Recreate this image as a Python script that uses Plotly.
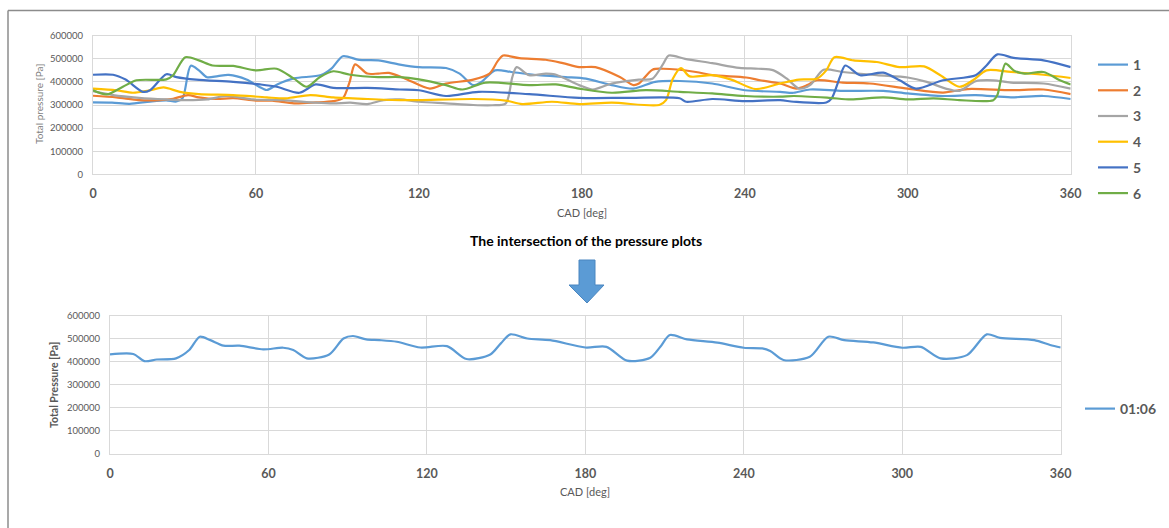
import plotly.graph_objects as go

W, H = 1169, 528

# ---------------- data ----------------
# values in thousands of Pa (x1000 = Pa), angles in CAD deg
s1_x = [0, 7, 13.5, 21, 27, 30.7, 33, 36, 39, 42, 46, 50, 56.5, 61, 64, 68, 74, 84, 88, 92, 98, 105, 113, 120, 130, 135, 140, 143, 148, 154, 164, 174, 181.5, 191, 199, 207, 216, 228, 240, 253, 258, 264, 276, 291, 300, 313, 325, 338, 350, 360]
s1_y = [311, 310, 305, 315, 320, 315, 330, 470, 450, 420, 425, 430, 410, 380, 365, 390, 415, 430, 460, 511, 495, 493, 475, 464, 460, 436, 386, 400, 450, 443, 429, 421, 414, 386, 371, 400, 404, 393, 364, 357, 353, 367, 361, 361, 350, 339, 343, 333, 339, 326]

s2_x = [0, 8.6, 17, 24.6, 29.5, 35, 39, 45.5, 51.6, 60, 66, 74, 82, 88.5, 92, 94.5, 96.5, 101, 105, 109, 115, 124, 130, 140, 146, 149, 151, 157, 166.7, 173, 179, 185, 194, 199, 201, 206, 210, 222, 228, 240.5, 245.6, 253, 259, 263, 266.5, 276, 286, 300, 313, 322, 338, 350, 360]
s2_y = [340, 333, 321, 321, 327, 343, 333, 326, 330, 319, 319, 307, 311, 317, 329, 400, 476, 436, 436, 439, 414, 371, 393, 410, 436, 490, 514, 503, 496, 481, 464, 464, 421, 386, 393, 453, 457, 443, 429, 419, 407, 393, 371, 386, 407, 397, 393, 371, 354, 369, 364, 367, 347]

s3_x = [0, 7.4, 17, 27, 34, 42, 49, 59, 70, 82, 88.5, 94.7, 101, 107, 113, 120, 130, 140, 147, 152, 154.4, 156, 160.6, 166.7, 170, 179, 184, 191, 201, 206, 210, 212, 218, 228, 238, 245, 250.6, 255.5, 260, 264, 269, 276, 288.6, 300, 307, 314, 319, 325, 331.5, 338, 350, 360]
s3_y = [360, 343, 331, 324, 321, 324, 339, 324, 321, 310, 307, 310, 304, 321, 324, 314, 307, 300, 299, 307, 421, 464, 429, 436, 433, 386, 367, 393, 410, 414, 479, 514, 500, 481, 461, 457, 450, 414, 371, 386, 453, 443, 429, 419, 400, 371, 361, 403, 407, 397, 393, 371]

s4_x = [0, 8.6, 14.7, 21, 26, 32, 39, 51.6, 64, 71, 80, 88.5, 101, 113, 120, 140, 152, 158, 169, 179, 191, 208.5, 211, 213.5, 216.5, 219.7, 228, 235, 244, 253, 260, 266.5, 270, 273, 280, 288.6, 297, 306, 312, 319, 324, 329, 338, 350, 360]
s4_y = [371, 364, 353, 364, 376, 357, 347, 343, 333, 329, 343, 333, 326, 321, 321, 326, 319, 304, 314, 304, 310, 300, 321, 414, 460, 424, 429, 410, 369, 393, 410, 414, 450, 507, 493, 486, 464, 467, 429, 379, 407, 450, 443, 431, 417]

s5_x = [0, 7.4, 12, 18.4, 21, 27, 30.7, 38, 51.6, 61.5, 67.6, 76, 82, 88.5, 101, 113, 120, 130, 142, 160.6, 179, 197.5, 216, 218.4, 228, 240, 253, 258, 270, 272, 275, 277, 282.5, 291, 297, 303, 313, 325, 329, 333, 339, 350, 360]
s5_y = [431, 431, 410, 357, 364, 433, 421, 410, 400, 389, 379, 353, 389, 374, 374, 367, 364, 339, 357, 347, 331, 331, 329, 314, 326, 317, 321, 314, 311, 329, 420, 471, 429, 440, 407, 371, 407, 429, 471, 519, 504, 493, 464]

s6_x = [0, 5, 11, 16, 27, 29.5, 34, 39, 44, 51.6, 60, 67.6, 74, 78.7, 83.6, 88.5, 94.7, 105, 113, 120, 130, 136, 144.6, 160.6, 170.4, 179, 191, 203.6, 216, 228, 240, 253, 258, 271, 279, 291, 300, 309.5, 319, 331.5, 333, 336, 339, 343, 350, 356, 360]
s6_y = [364, 346, 379, 407, 411, 429, 507, 493, 471, 469, 450, 457, 414, 379, 421, 446, 431, 421, 421, 411, 386, 367, 397, 386, 389, 371, 353, 364, 357, 350, 339, 336, 339, 331, 324, 333, 324, 329, 321, 321, 343, 479, 450, 436, 443, 407, 389]

env_x = [0, 8.8, 13, 17.7, 25, 30, 34, 38, 43, 49, 58, 65.6, 69.4, 74.5, 83, 88.4, 92, 97, 102, 108.6, 117.5, 127.6, 135, 144, 148, 151.6, 158, 166.7, 180, 188, 195.8, 204.6, 208.4, 212, 218.5, 230, 240, 247, 250, 255, 265, 272, 278, 289, 300, 307, 314.5, 324.5, 332, 337, 350, 356, 360]
env_y = [432, 434, 403, 410, 415, 451, 509, 494, 470, 470, 454, 461, 451, 415, 432, 501, 512, 497, 494, 487, 462, 468, 412, 432, 480, 519, 501, 494, 462, 465, 405, 418, 465, 516, 497, 483, 461, 458, 447, 408, 422, 509, 494, 484, 461, 465, 415, 429, 519, 504, 494, 473, 462]

series_names = ["1", "2", "3", "4", "5", "6"]
series_x = [s1_x, s2_x, s3_x, s4_x, s5_x, s6_x]
series_y = [s1_y, s2_y, s3_y, s4_y, s5_y, s6_y]
series_colors = ["#5B9BD5", "#ED7D31", "#A5A5A5", "#FFC000", "#4472C4", "#70AD47"]
env_name = "01:06"
env_color = "#5B9BD5"

x_ticks = [0, 60, 120, 180, 240, 300, 360]
y_ticks = [0, 100000, 200000, 300000, 400000, 500000, 600000]


def px(x):
    return x / W


def py(y):
    return 1 - y / H


fig = go.Figure()

for n, xs, ys, c in zip(series_names, series_x, series_y, series_colors):
    fig.add_trace(go.Scatter(
        x=xs, y=[v * 1000 for v in ys], name=n, mode="lines",
        line=dict(color=c, width=2.2, shape="spline", smoothing=0.8),
        xaxis="x", yaxis="y", legend="legend", legendgroup=n,
    ))

fig.add_trace(go.Scatter(
    x=env_x, y=[v * 1000 for v in env_y], name=env_name, mode="lines",
    line=dict(color=env_color, width=2.2, shape="spline", smoothing=0.8),
    xaxis="x2", yaxis="y2", legend="legend2",
))

grid = "#D9D9D9"
tick_gray = "#595959"
font_family = "Lato"

xaxis_common = dict(
    range=[0, 360], tickvals=x_ticks, showgrid=True, gridcolor=grid, gridwidth=1,
    showline=True, linecolor=grid, linewidth=1, mirror=True, zeroline=False,
    ticks="", ticklabelstandoff=8, automargin=False,
    tickfont=dict(family=font_family, size=12.5, color=tick_gray, weight="bold"),
)
yaxis_common = dict(
    range=[0, 600000], tickvals=y_ticks, tickformat="d", showgrid=True, gridcolor=grid,
    gridwidth=1, showline=True, linecolor=grid, linewidth=1, mirror=True, zeroline=False,
    ticks="", ticklabelstandoff=7, automargin=False,
    tickfont=dict(family=font_family, size=9.5, color=tick_gray),
)

fig.update_layout(
    width=W, height=H, margin=dict(l=0, r=0, t=0, b=0, autoexpand=False),
    paper_bgcolor="white", plot_bgcolor="white",
    font=dict(family=font_family, color=tick_gray),
    xaxis=dict(domain=[px(93), px(1070.7)], anchor="y", **xaxis_common),
    yaxis=dict(domain=[py(174.3), py(35.7)], anchor="x", **yaxis_common),
    xaxis2=dict(domain=[px(110), px(1060.7)], anchor="y2", **xaxis_common),
    yaxis2=dict(domain=[py(454), py(315.7)], anchor="x2", **yaxis_common),
    legend=dict(
        x=px(1093), y=py(49), xanchor="left", yanchor="top",
        traceorder="grouped", tracegroupgap=4.5, itemwidth=30,
        font=dict(family=font_family, size=14, color=tick_gray, weight="bold"),
        bgcolor="rgba(0,0,0,0)",
    ),
    legend2=dict(
        x=px(1080), y=py(409), xanchor="left", yanchor="middle", itemwidth=30,
        font=dict(family=font_family, size=14, color=tick_gray, weight="bold"),
        bgcolor="rgba(0,0,0,0)",
    ),
    showlegend=True,
)

annotations = [
    dict(text="Total pressure [Pa]", x=px(39), y=py(104), textangle=-90,
         font=dict(family=font_family, size=10, color="#7F7F7F")),
    dict(text="CAD [deg]", x=px(582), y=py(212.7),
         font=dict(family=font_family, size=11, color=tick_gray)),
    dict(text="The intersection of the pressure plots", x=px(586), y=py(240),
         font=dict(family=font_family, size=14, color="#000000", weight="bold")),
    dict(text="Total Pressure [Pa]", x=px(54), y=py(385), textangle=-90,
         font=dict(family=font_family, size=10.5, color=tick_gray, weight="bold")),
    dict(text="CAD [deg]", x=px(585), y=py(491.7),
         font=dict(family=font_family, size=11, color=tick_gray)),
]
for a in annotations:
    a.update(xref="paper", yref="paper", showarrow=False, xanchor="center", yanchor="middle")
fig.update_layout(annotations=annotations)

# decorative arrow and page border
ax = [579, 595, 595, 604, 587, 569, 579]
ay = [260, 260, 285, 285, 303, 285, 285]
path = "M " + " L ".join(f"{px(a)},{py(b)}" for a, b in zip(ax, ay)) + " Z"
fig.add_shape(type="path", path=path, xref="paper", yref="paper",
              fillcolor="#5B9BD5", line=dict(color="#4A86C0", width=1))
fig.add_shape(type="line", xref="paper", yref="paper", x0=px(8), x1=1, y0=py(10.5), y1=py(10.5),
              line=dict(color="#8C8C8C", width=1.5))
fig.add_shape(type="line", xref="paper", yref="paper", x0=px(8), x1=px(8), y0=py(10.5), y1=0,
              line=dict(color="#8C8C8C", width=1.5))

fig.write_html("out.html")
